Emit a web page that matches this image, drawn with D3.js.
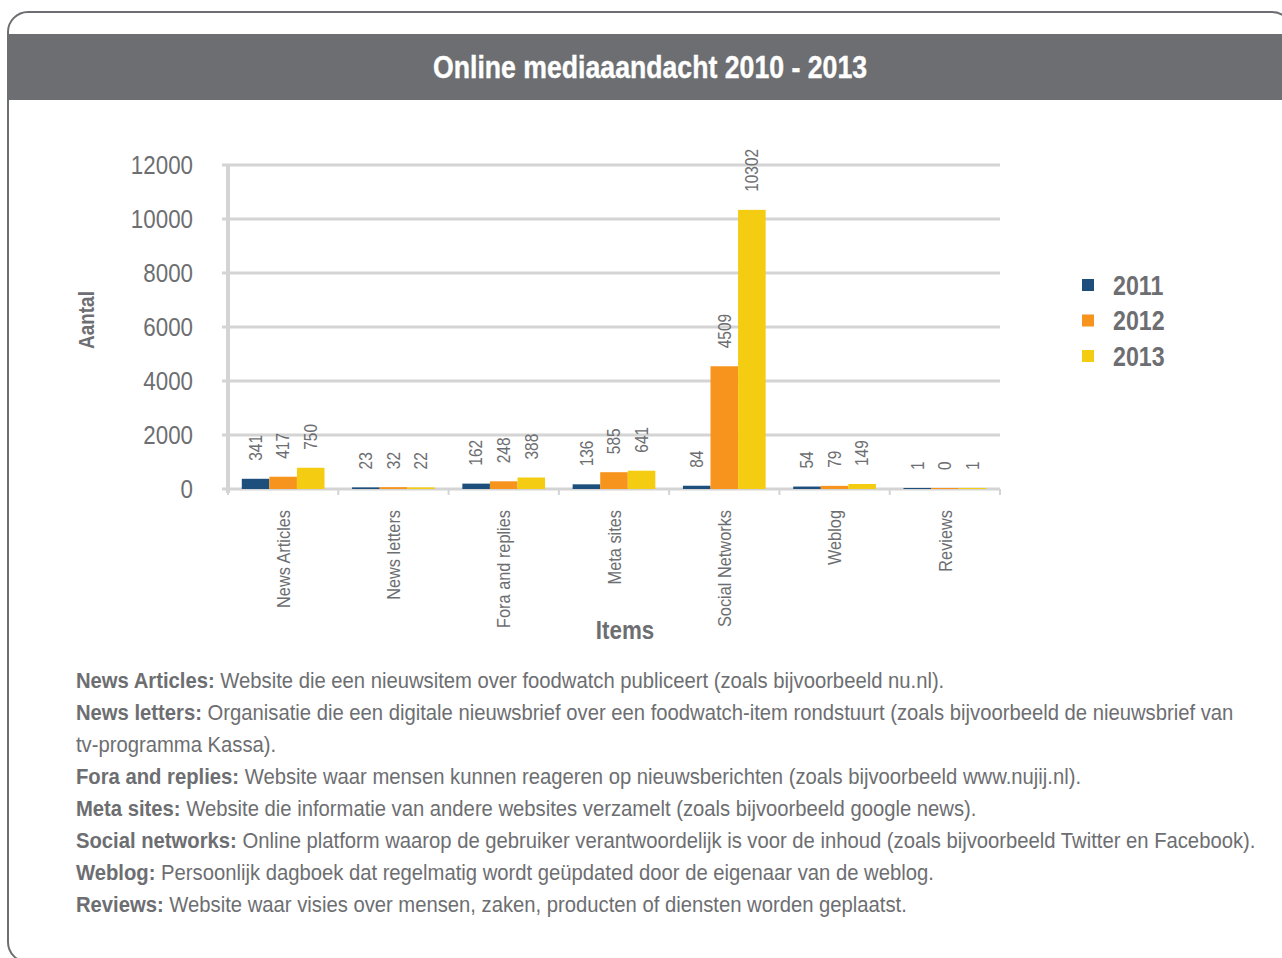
<!DOCTYPE html>
<html>
<head>
<meta charset="utf-8">
<script src="https://cdn.jsdelivr.net/npm/d3@7"></script>
<style>
  body { margin: 0; background: #fff; }
  svg text { font-family: "Liberation Sans", Arial, sans-serif; }
</style>
</head>
<body>
<svg id="chart" width="1282" height="958"></svg>
<script>
// data
const items = ["News Articles", "News letters", "Fora and replies", "Meta sites", "Social Networks", "Weblog", "Reviews"];
const years = ["2011", "2012", "2013"];
const values2011 = [341, 23, 162, 136, 84, 54, 1];
const values2012 = [417, 32, 248, 585, 4509, 79, 0];
const values2013 = [750, 22, 388, 641, 10302, 149, 1];
const yTicks = [0, 2000, 4000, 6000, 8000, 10000, 12000];
const colors = ["#1d4f7c", "#f7941d", "#f4cd12"];
const notes = [
  ["News Articles:", " Website die een nieuwsitem over foodwatch publiceert (zoals bijvoorbeeld nu.nl)."],
  ["News letters:", " Organisatie die een digitale nieuwsbrief over een foodwatch-item rondstuurt (zoals bijvoorbeeld de nieuwsbrief van"],
  ["", "tv-programma Kassa)."],
  ["Fora and replies:", " Website waar mensen kunnen reageren op nieuwsberichten (zoals bijvoorbeeld www.nujij.nl)."],
  ["Meta sites:", " Website die informatie van andere websites verzamelt (zoals bijvoorbeeld google news)."],
  ["Social networks:", " Online platform waarop de gebruiker verantwoordelijk is voor de inhoud (zoals bijvoorbeeld Twitter en Facebook)."],
  ["Weblog:", " Persoonlijk dagboek dat regelmatig wordt geüpdated door de eigenaar van de weblog."],
  ["Reviews:", " Website waar visies over mensen, zaken, producten of diensten worden geplaatst."]
];

const gray = "#6d6e71";
const gridColor = "#d4d4d4";
const sx = 0.86; // condensed look: Liberation Sans squeezed horizontally

const series = [values2011, values2012, values2013];
const rows = items.map((name, i) => ({ name, vals: years.map((y, k) => ({ year: y, k, v: series[k][i] })) }));

const svg = d3.select("#chart");

// frame and title bar
svg.append("rect")
  .attr("x", 8).attr("y", 12).attr("width", 1284).attr("height", 950).attr("rx", 20)
  .attr("fill", "#fff").attr("stroke", gray).attr("stroke-width", 2);
svg.append("rect")
  .attr("x", 8).attr("y", 34).attr("width", 1274).attr("height", 66)
  .attr("fill", gray);
svg.append("text")
  .attr("transform", `translate(650,78) scale(${sx},1)`)
  .attr("text-anchor", "middle")
  .attr("fill", "#fff").attr("font-size", 31).attr("font-weight", "bold")
  .attr("stroke", "#fff").attr("stroke-width", 0.4)
  .text("Online mediaaandacht 2010 - 2013");

// scales
const plot = { left: 228, right: 1000, top: 165, bottom: 489 };
const x0 = d3.scaleBand().domain(items).range([plot.left, plot.right]).paddingInner(0.25).paddingOuter(0.125);
const x1 = d3.scaleBand().domain(years).range([0, x0.bandwidth()]);
const y = d3.scaleLinear().domain([0, 12000]).range([plot.bottom, plot.top]);

// gridlines
svg.append("g")
  .selectAll("line")
  .data(yTicks)
  .join("line")
  .attr("x1", plot.left - 6).attr("x2", plot.right)
  .attr("y1", d => y(d)).attr("y2", d => y(d))
  .attr("stroke", gridColor).attr("stroke-width", 3);

// y axis line
svg.append("line")
  .attr("x1", plot.left).attr("x2", plot.left)
  .attr("y1", plot.top).attr("y2", plot.bottom + 4)
  .attr("stroke", gridColor).attr("stroke-width", 4);

// x category boundary ticks
const step = x0.step();
svg.append("g")
  .selectAll("line")
  .data(d3.range(items.length + 1))
  .join("line")
  .attr("x1", i => plot.left + i * step).attr("x2", i => plot.left + i * step)
  .attr("y1", plot.bottom).attr("y2", plot.bottom + 6)
  .attr("stroke", gridColor).attr("stroke-width", 2);

// y tick labels
svg.append("g")
  .selectAll("text")
  .data(yTicks)
  .join("text")
  .attr("transform", d => `translate(193,${y(d)}) scale(${sx},1)`)
  .attr("dy", "0.35em")
  .attr("text-anchor", "end")
  .attr("fill", gray).attr("font-size", 26)
  .text(d => d);

// bars
const groups = svg.append("g")
  .selectAll("g")
  .data(rows)
  .join("g")
  .attr("transform", d => `translate(${x0(d.name)},0)`);

groups.selectAll("rect")
  .data(d => d.vals)
  .join("rect")
  .attr("x", d => x1(d.year))
  .attr("width", x1.bandwidth())
  .attr("y", d => y(d.v) - 1)
  .attr("height", d => plot.bottom - y(d.v) + 1)
  .attr("fill", d => colors[d.k]);

// value labels
groups.selectAll("text")
  .data(d => d.vals)
  .join("text")
  .attr("transform", d => `translate(${x1(d.year) + x1.bandwidth() / 2},${y(d.v) - 19}) rotate(-90) scale(${sx},1)`)
  .attr("dy", "0.35em")
  .attr("fill", gray).attr("font-size", 18)
  .text(d => d.v);

// category labels
svg.append("g")
  .selectAll("text")
  .data(items)
  .join("text")
  .attr("transform", d => `translate(${x0(d) + x0.bandwidth() / 2},510) rotate(-90) scale(${sx},1)`)
  .attr("dy", "0.35em")
  .attr("text-anchor", "end")
  .attr("fill", gray).attr("font-size", 19)
  .text(d => d);

// axis titles
svg.append("text")
  .attr("transform", `translate(625,639) scale(${sx},1)`)
  .attr("text-anchor", "middle")
  .attr("fill", gray).attr("font-size", 26).attr("font-weight", "bold")
  .text("Items");
svg.append("text")
  .attr("transform", `translate(86,320) rotate(-90) scale(${sx},1)`)
  .attr("dy", "0.35em")
  .attr("text-anchor", "middle")
  .attr("fill", gray).attr("font-size", 22).attr("font-weight", "bold")
  .text("Aantal");

// legend
const legend = svg.append("g")
  .selectAll("g")
  .data(years)
  .join("g")
  .attr("transform", (d, i) => `translate(1082,${285 + i * 35.5})`);
legend.append("rect")
  .attr("x", 0).attr("y", -6).attr("width", 12).attr("height", 12)
  .attr("fill", (d, i) => colors[i]);
legend.append("text")
  .attr("transform", `translate(31,0) scale(${sx},1)`)
  .attr("dy", "0.36em")
  .attr("fill", gray).attr("font-size", 27).attr("font-weight", "bold")
  .text(d => d);

// notes, squeezed so the first line spans the same width as in the picture
const noteText = svg.append("g")
  .selectAll("text")
  .data(notes)
  .join("text")
  .attr("fill", gray).attr("font-size", 22);
noteText.append("tspan").attr("font-weight", "bold").text(d => d[0]);
noteText.append("tspan").text(d => d[1]);
const firstW = noteText.node().getComputedTextLength();
const noteSx = 869 / firstW;
noteText.attr("transform", (d, i) => `translate(76,${688 + i * 32}) scale(${noteSx},1)`);
</script>
</body>
</html>
